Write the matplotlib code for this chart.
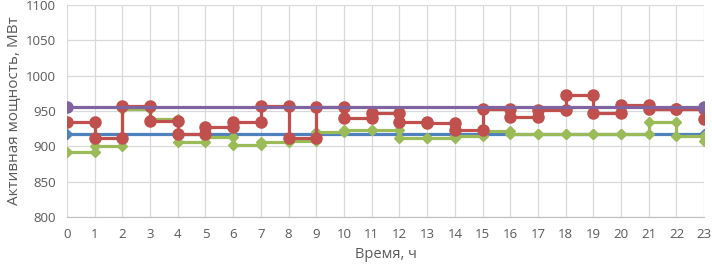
import numpy as np
import matplotlib
matplotlib.use("Agg")
import matplotlib.pyplot as plt

plt.rcParams['font.family'] = ['Open Sans', 'DejaVu Sans']

# Hourly values, MW (value for hour h holds from h to h+1; last value is the point at 23)
hours = list(range(24))
red_vals = [935, 912, 957, 936, 917, 928, 935, 957, 912, 955, 940, 947,
            935, 933, 923, 953, 942, 951, 972, 947, 958, 953, 953, 939]
green_vals = [892, 901, 953, 939, 906, 913, 902, 906, 907, 920, 923, 923,
              912, 912, 914, 921, 918, 918, 918, 918, 918, 935, 914, 907]
blue_level = 918
purple_level = 956

BLUE = '#4F81BD'
RED = '#C0504D'
GREEN = '#9BBB59'
PURPLE = '#8064A2'


def step_points(vals):
    """Build (x, y) for a step line with a point at both ends of each hour."""
    xs, ys = [], []
    for h in range(len(vals) - 1):
        xs += [h, h + 1]
        ys += [vals[h], vals[h]]
    xs.append(len(vals) - 1)
    ys.append(vals[-1])
    return xs, ys


fig = plt.figure(figsize=(7.12, 2.71), dpi=100)
ax = fig.add_axes([0.094, 0.199, 0.895, 0.783])

ax.plot([hours[0], hours[-1]], [blue_level] * 2, color=BLUE, lw=2.3,
        marker='D', ms=5, zorder=3)
gx, gy = step_points(green_vals)
ax.plot(gx, gy, color=GREEN, lw=2.3, marker='D', ms=5.5, zorder=4)
rx, ry = step_points(red_vals)
ax.plot(rx, ry, color=RED, lw=2.3, marker='o', ms=8, zorder=5)
ax.plot([hours[0], hours[-1]], [purple_level] * 2, color=PURPLE, lw=2.3,
        marker='o', ms=8, zorder=6)

ax.set_xlim(0, 23)
ax.set_ylim(800, 1100)
ax.set_xticks(hours)
ax.set_yticks(np.arange(800, 1101, 50))
ax.grid(True, color='#D9D9D9', lw=0.9)
ax.set_axisbelow(True)
for s in ['top', 'right', 'left']:
    ax.spines[s].set_visible(False)
ax.spines['bottom'].set_color('#BFBFBF')
ax.tick_params(length=0, labelsize=9.5, colors='#595959', pad=8)
ax.set_xlabel('Время, ч', fontsize=10.5, color='#595959', labelpad=4)
ax.set_ylabel('Активная мощность, МВт', fontsize=11, color='#595959', labelpad=3)

fig.savefig('out.png', dpi=100)
